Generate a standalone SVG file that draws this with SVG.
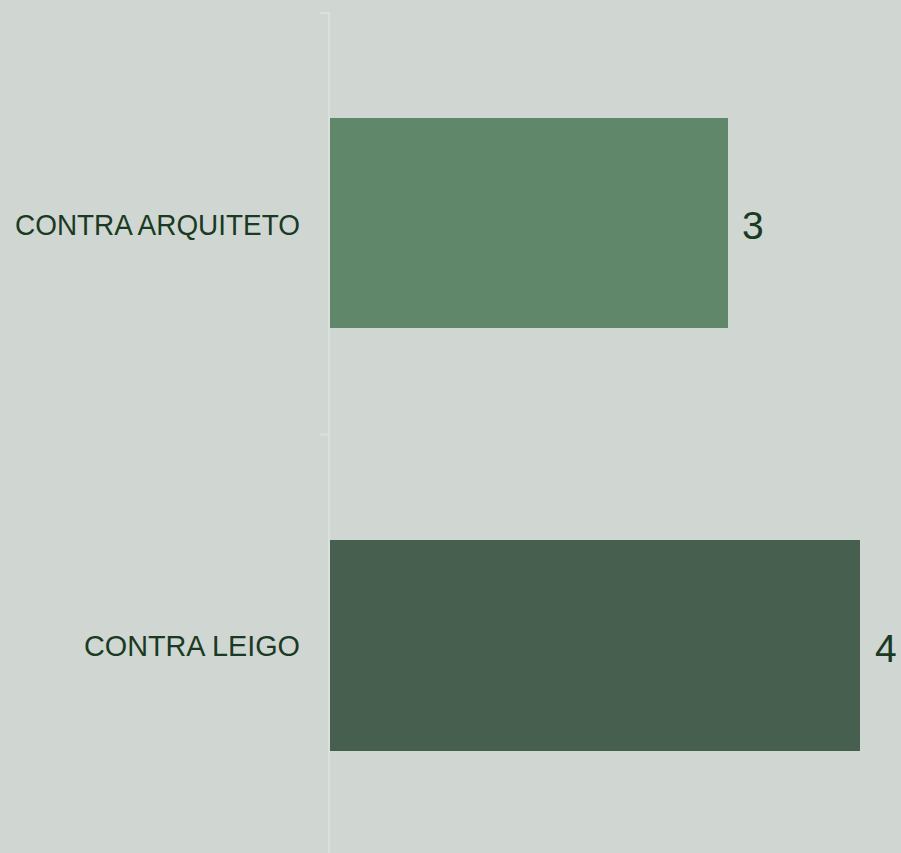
<svg xmlns="http://www.w3.org/2000/svg" width="901" height="853" viewBox="0 0 901 853">
  <style>
    .lbl { font-family: "Liberation Sans", Arial, sans-serif; font-size: 29px; fill: #1A3A23; text-anchor: end; }
    .val { font-family: "Liberation Sans", Arial, sans-serif; font-size: 39px; fill: #1A3A23; }
    .axis { stroke: #DCE0DD; stroke-width: 2; fill: none; }
  </style>
  <rect x="0" y="0" width="901" height="853" fill="#D0D7D3"/>
  <g id="axis">
    <path class="axis" d="M320 13 H329 V853"/>
    <path class="axis" d="M320 434.5 H329"/>
  </g>
  <g id="bar-arquiteto">
    <rect x="330" y="118" width="398" height="210" fill="#61876B"/>
    <text class="lbl" x="300" y="235" textLength="285" lengthAdjust="spacingAndGlyphs">CONTRA ARQUITETO</text>
    <text class="val" x="742" y="239">3</text>
  </g>
  <g id="bar-leigo">
    <rect x="330" y="540" width="530" height="211" fill="#465F4F"/>
    <text class="lbl" x="300" y="656" textLength="216" lengthAdjust="spacingAndGlyphs">CONTRA LEIGO</text>
    <text class="val" x="875" y="662">4</text>
  </g>
</svg>
